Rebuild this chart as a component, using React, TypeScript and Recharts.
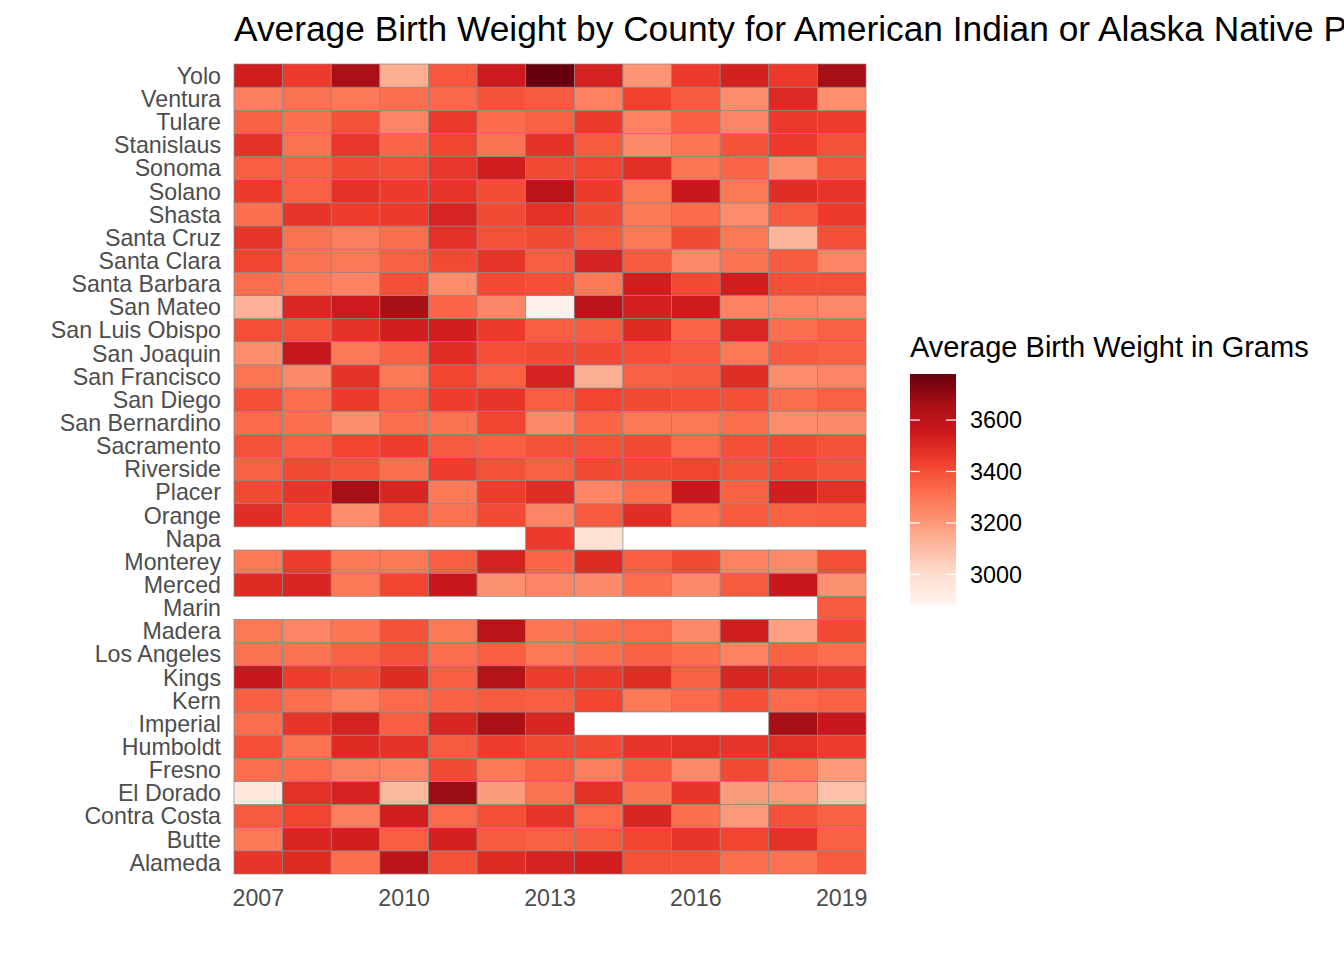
import { ScatterChart, Scatter, XAxis, YAxis } from "recharts";

const FONT = "'Liberation Sans', Arial, Helvetica, sans-serif";

const years = [2007, 2008, 2009, 2010, 2011, 2012, 2013, 2014, 2015, 2016, 2017, 2018, 2019];
const xTicks = [2007, 2010, 2013, 2016, 2019];
const legendTicks = [3000, 3200, 3400, 3600];

// bottom (Alameda) to top (Yolo)
const counties = [
  "Alameda", "Butte", "Contra Costa", "El Dorado", "Fresno", "Humboldt", "Imperial", "Kern", "Kings",
  "Los Angeles", "Madera", "Marin", "Merced", "Monterey", "Napa", "Orange", "Placer", "Riverside",
  "Sacramento", "San Bernardino", "San Diego", "San Francisco", "San Joaquin", "San Luis Obispo",
  "San Mateo", "Santa Barbara", "Santa Clara", "Santa Cruz", "Shasta", "Solano", "Sonoma",
  "Stanislaus", "Tulare", "Ventura", "Yolo",
];

// average birth weight (g), 2007..2019, null = no data
const alameda = [3465, 3495, 3320, 3600, 3395, 3495, 3525, 3535, 3395, 3395, 3320, 3305, 3370];
const butte = [3290, 3515, 3535, 3360, 3530, 3370, 3355, 3370, 3425, 3465, 3425, 3480, 3355];
const contraCosta = [3370, 3425, 3275, 3535, 3330, 3400, 3465, 3330, 3515, 3320, 3200, 3395, 3355];
const elDorado = [2960, 3480, 3525, 3115, 3680, 3190, 3305, 3480, 3305, 3465, 3190, 3200, 3090];
const fresno = [3320, 3330, 3275, 3265, 3410, 3290, 3355, 3275, 3370, 3245, 3410, 3290, 3200];
const humboldt = [3400, 3305, 3495, 3470, 3370, 3440, 3410, 3410, 3465, 3480, 3465, 3480, 3440];
const imperial = [3320, 3465, 3525, 3360, 3515, 3645, 3515, null, null, null, null, 3665, 3560];
const kern = [3360, 3320, 3275, 3330, 3355, 3370, 3360, 3425, 3290, 3330, 3400, 3330, 3355];
const kings = [3560, 3440, 3410, 3495, 3360, 3620, 3440, 3445, 3490, 3355, 3515, 3490, 3465];
const losAngeles = [3305, 3305, 3355, 3395, 3320, 3360, 3290, 3320, 3355, 3320, 3265, 3355, 3320];
const madera = [3290, 3255, 3300, 3395, 3290, 3605, 3300, 3320, 3330, 3240, 3535, 3180, 3410];
const marin = [null, null, null, null, null, null, null, null, null, null, null, null, 3370];
const merced = [3495, 3515, 3290, 3425, 3560, 3220, 3255, 3240, 3320, 3240, 3370, 3560, 3220];
const monterey = [3290, 3440, 3290, 3290, 3360, 3525, 3340, 3495, 3360, 3410, 3265, 3245, 3400];
const napa = [null, null, null, null, null, null, 3445, 2990, null, null, null, null, null];
const orange = [3490, 3425, 3230, 3370, 3305, 3410, 3255, 3370, 3490, 3320, 3370, 3355, 3360];
const placer = [3410, 3465, 3665, 3515, 3290, 3440, 3490, 3255, 3320, 3560, 3355, 3535, 3480];
const riverside = [3355, 3410, 3385, 3320, 3440, 3395, 3355, 3410, 3410, 3425, 3385, 3410, 3385];
const sacramento = [3395, 3360, 3425, 3440, 3370, 3360, 3395, 3395, 3410, 3330, 3400, 3410, 3395];
const sanBernardino = [3330, 3315, 3230, 3320, 3305, 3425, 3245, 3340, 3290, 3290, 3320, 3235, 3240];
const sanDiego = [3400, 3320, 3445, 3355, 3440, 3465, 3360, 3425, 3410, 3400, 3400, 3320, 3355];
const sanFrancisco = [3300, 3245, 3470, 3290, 3425, 3355, 3525, 3140, 3355, 3370, 3490, 3235, 3255];
const sanJoaquin = [3230, 3560, 3290, 3355, 3490, 3400, 3410, 3410, 3400, 3370, 3290, 3370, 3355];
const sanLuisObispo = [3400, 3395, 3470, 3535, 3535, 3445, 3360, 3370, 3495, 3340, 3510, 3320, 3355];
const sanMateo = [3130, 3510, 3550, 3660, 3340, 3250, 2900, 3600, 3530, 3545, 3265, 3265, 3245];
const santaBarbara = [3320, 3290, 3265, 3400, 3235, 3410, 3400, 3290, 3540, 3410, 3540, 3400, 3395];
const santaClara = [3425, 3305, 3290, 3355, 3410, 3465, 3360, 3525, 3370, 3240, 3305, 3370, 3255];
const santaCruz = [3465, 3305, 3275, 3320, 3480, 3395, 3410, 3370, 3290, 3410, 3290, 3120, 3400];
const shasta = [3315, 3465, 3440, 3445, 3520, 3410, 3480, 3410, 3290, 3325, 3235, 3370, 3445];
const solano = [3445, 3355, 3475, 3445, 3465, 3405, 3605, 3445, 3290, 3560, 3290, 3490, 3465];
const sonoma = [3360, 3355, 3410, 3400, 3460, 3535, 3410, 3425, 3485, 3300, 3340, 3230, 3385];
const stanislaus = [3470, 3310, 3460, 3340, 3425, 3305, 3470, 3370, 3245, 3300, 3390, 3445, 3395];
const tulare = [3355, 3315, 3395, 3255, 3455, 3325, 3355, 3445, 3265, 3360, 3255, 3450, 3440];
const ventura = [3270, 3310, 3290, 3320, 3335, 3390, 3370, 3265, 3430, 3370, 3230, 3505, 3225];
const yolo = [3540, 3445, 3650, 3140, 3380, 3550, 3779, 3525, 3210, 3445, 3530, 3450, 3665];

const countyValues = [
  alameda, butte, contraCosta, elDorado, fresno, humboldt, imperial, kern, kings,
  losAngeles, madera, marin, merced, monterey, napa, orange, placer, riverside,
  sacramento, sanBernardino, sanDiego, sanFrancisco, sanJoaquin, sanLuisObispo,
  sanMateo, santaBarbara, santaClara, santaCruz, shasta, solano, sonoma,
  stanislaus, tulare, ventura, yolo,
];

const cells = countyValues.flatMap((vals, row) =>
  vals
    .map((value, i) => ({ year: years[i], row, value }))
    .filter((c) => c.value != null)
);

// Brewer "Reds" (9), continuous, interpolated in Lab like ggplot
const REDS = ["#fff5f0", "#fee0d2", "#fcbba1", "#fc9272", "#fb6a4a", "#ef3b2c", "#cb181d", "#a50f15", "#67000d"];
const MIN_W = 2881;
const MAX_W = 3779;

function hexToRgb(h: string) {
  return [1, 3, 5].map((i) => parseInt(h.slice(i, i + 2), 16));
}

const WHITE = [0.95047, 1, 1.08883];

function rgbToLab(rgb: number[]) {
  const lin = rgb.map((c) => {
    const v = c / 255;
    return v <= 0.04045 ? v / 12.92 : Math.pow((v + 0.055) / 1.055, 2.4);
  });
  const x = lin[0] * 0.4124 + lin[1] * 0.3576 + lin[2] * 0.1805;
  const y = lin[0] * 0.2126 + lin[1] * 0.7152 + lin[2] * 0.0722;
  const z = lin[0] * 0.0193 + lin[1] * 0.1192 + lin[2] * 0.9505;
  const f = (t: number) => (t > 0.008856 ? Math.cbrt(t) : 7.787 * t + 16 / 116);
  const fx = f(x / WHITE[0]);
  const fy = f(y / WHITE[1]);
  const fz = f(z / WHITE[2]);
  return [116 * fy - 16, 500 * (fx - fy), 200 * (fy - fz)];
}

function labToRgb(lab: number[]) {
  const fy = (lab[0] + 16) / 116;
  const fx = fy + lab[1] / 500;
  const fz = fy - lab[2] / 200;
  const inv = (t: number) => (t ** 3 > 0.008856 ? t ** 3 : (t - 16 / 116) / 7.787);
  const x = inv(fx) * WHITE[0];
  const y = inv(fy) * WHITE[1];
  const z = inv(fz) * WHITE[2];
  const r = x * 3.2406 + y * -1.5372 + z * -0.4986;
  const g = x * -0.9689 + y * 1.8758 + z * 0.0415;
  const b = x * 0.0557 + y * -0.204 + z * 1.057;
  return [r, g, b].map((v) => {
    const s = v <= 0.0031308 ? 12.92 * v : 1.055 * Math.pow(v, 1 / 2.4) - 0.055;
    return Math.max(0, Math.min(255, Math.round(s * 255)));
  });
}

const REDS_LAB = REDS.map((c) => rgbToLab(hexToRgb(c)));

function fillFor(v: number) {
  const t = Math.max(0, Math.min(1, (v - MIN_W) / (MAX_W - MIN_W)));
  const pos = t * (REDS.length - 1);
  const i = Math.min(REDS.length - 2, Math.floor(pos));
  const f = pos - i;
  const a = REDS_LAB[i];
  const b = REDS_LAB[i + 1];
  const c = labToRgb(a.map((x, k) => x + (b[k] - x) * f));
  return `rgb(${c[0]},${c[1]},${c[2]})`;
}

const W = 1344;
const H = 960;
const margin = { top: 64, right: 478, bottom: 56, left: 34 };
const Y_AXIS_W = 200;
const X_AXIS_H = 30;
const PLOT_W = W - margin.left - margin.right - Y_AXIS_W;
const PLOT_H = H - margin.top - margin.bottom - X_AXIS_H;
const CELL_W = PLOT_W / years.length;
const CELL_H = PLOT_H / counties.length;

function HeatCell(props: any) {
  const { cx, cy, payload } = props;
  if (cx == null || cy == null) return null;
  return (
    <rect
      x={cx - CELL_W / 2}
      y={cy - CELL_H / 2}
      width={CELL_W}
      height={CELL_H}
      fill={fillFor(payload.value)}
      stroke="#888888"
      strokeWidth={0.7}
    />
  );
}

function ColorBar() {
  const x = 910;
  const top = 374;
  const h = 231;
  const w = 46;
  const yFor = (v: number) => top + ((MAX_W - v) / (MAX_W - MIN_W)) * h;
  const stops = Array.from({ length: 41 }, (_, i) => i / 40);
  return (
    <svg width={W} height={H} style={{ position: "absolute", left: 0, top: 0, pointerEvents: "none" }}>
      <text x={234} y={41} fontSize={35.3} fontFamily={FONT} fill="#000">
        Average Birth Weight by County for American Indian or Alaska Native Population
      </text>
      <text x={x} y={357} fontSize={29} fontFamily={FONT} fill="#000">
        Average Birth Weight in Grams
      </text>
      <defs>
        <linearGradient id="reds" x1="0" y1="1" x2="0" y2="0">
          {stops.map((s) => (
            <stop key={s} offset={s} stopColor={fillFor(MIN_W + s * (MAX_W - MIN_W))} />
          ))}
        </linearGradient>
      </defs>
      <rect x={x} y={top} width={w} height={h} fill="url(#reds)" />
      {legendTicks.map((t) => (
        <g key={t}>
          <line x1={x} x2={x + 10} y1={yFor(t)} y2={yFor(t)} stroke="#fff" strokeWidth={1.2} />
          <line x1={x + w - 10} x2={x + w} y1={yFor(t)} y2={yFor(t)} stroke="#fff" strokeWidth={1.2} />
          <text x={970} y={yFor(t)} dy="0.36em" fontSize={23.4} fontFamily={FONT} fill="#000">
            {t}
          </text>
        </g>
      ))}
    </svg>
  );
}

export default function App() {
  const tickStyle = { fill: "#4d4d4d", fontSize: 23.2, fontFamily: FONT };
  return (
    <div style={{ position: "absolute", left: 0, top: 0, width: W, height: H, background: "#fff" }}>
      <ScatterChart width={W} height={H} margin={margin}>
        <XAxis
          type="number"
          dataKey="year"
          domain={[2006.5, 2019.5]}
          ticks={xTicks}
          interval={0}
          axisLine={false}
          tickLine={false}
          tickSize={0}
          tickMargin={16}
          height={X_AXIS_H}
          tick={tickStyle}
        />
        <YAxis
          type="number"
          dataKey="row"
          domain={[-0.5, counties.length - 0.5]}
          ticks={counties.map((_, i) => i)}
          tickFormatter={(i: number) => counties[i]}
          interval={0}
          axisLine={false}
          tickLine={false}
          tickSize={0}
          tickMargin={13}
          width={Y_AXIS_W}
          tick={tickStyle}
        />
        <Scatter data={cells} shape={HeatCell} isAnimationActive={false} />
      </ScatterChart>
      <ColorBar />
    </div>
  );
}
